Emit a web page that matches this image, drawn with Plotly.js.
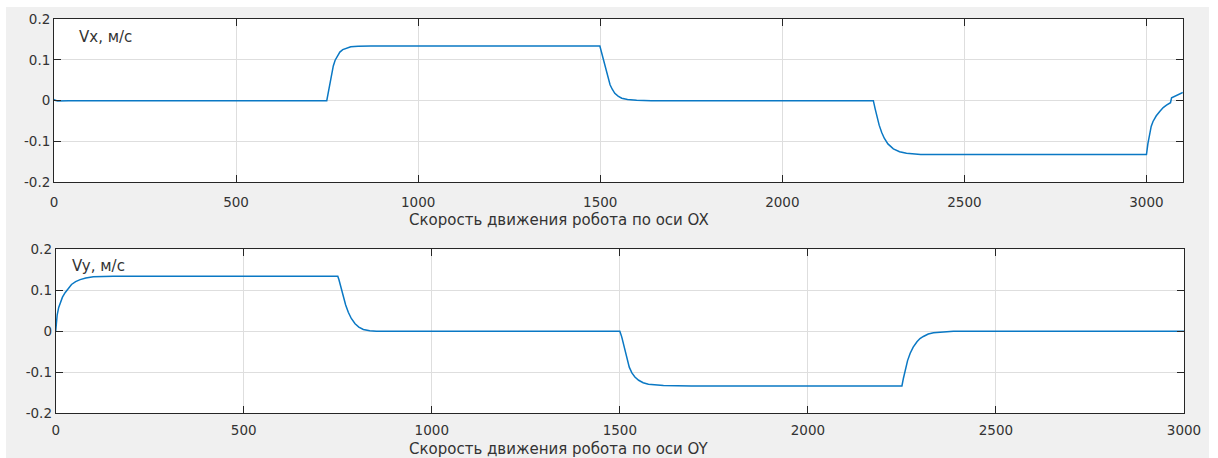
<!DOCTYPE html>
<html>
<head>
<meta charset="utf-8">
<script src="https://cdn.plot.ly/plotly-3.0.1.min.js"></script>
<style>
  html, body { margin: 0; padding: 0; background: #ffffff; }
  #chart { position: absolute; left: 6px; top: 7px; width: 1203px; height: 451px; }
</style>
</head>
<body>
<div id="chart"></div>
<script>
// ---- Data ----
// Vx (robot speed along OX), m/s
var vxTime = [0, 3, 10, 40,
              749, 753, 758, 762, 767, 772, 778, 785, 793, 803, 815, 835, 870,
              1499, 1504, 1508, 1513, 1518, 1522, 1527, 1533, 1540, 1549, 1559, 1575, 1600, 1640,
              2250, 2255, 2260, 2266, 2273, 2280, 2290, 2305, 2322, 2341, 2380,
              3000, 3004, 3009, 3013, 3018, 3027, 3037, 3046, 3055, 3066, 3069, 3085, 3100];
var vxValue = [0.003, 0.001, -0.001, 0,
               0, 0.02, 0.045, 0.066, 0.085, 0.099, 0.11, 0.119, 0.125, 0.129, 0.132, 0.1335, 0.134,
               0.134, 0.117, 0.1, 0.08, 0.063, 0.051, 0.039, 0.028, 0.018, 0.011, 0.006, 0.003, 0.001, 0,
               0, -0.02, -0.04, -0.06, -0.078, -0.092, -0.106, -0.118, -0.125, -0.129, -0.132,
               -0.132, -0.105, -0.077, -0.063, -0.051, -0.037, -0.026, -0.017, -0.011, -0.005, 0.007, 0.013, 0.02];

// Vy (robot speed along OY), m/s
var vyTime = [0, 2, 4, 8, 12, 18, 25, 33, 42, 53, 65, 80, 100, 153,
              750, 753, 756, 760, 765, 771, 778, 786, 796, 806, 818, 835, 853,
              1500, 1505, 1510, 1514, 1519, 1525, 1532, 1540, 1550, 1562, 1576, 1595, 1616, 1690,
              2250, 2254, 2259, 2265, 2272, 2280, 2290, 2298, 2307, 2320, 2334, 2355, 2387, 3000];
var vyValue = [0, 0.022, 0.04, 0.058, 0.07, 0.083, 0.094, 0.104, 0.114, 0.121, 0.126, 0.13, 0.133, 0.134,
               0.134, 0.126, 0.115, 0.1, 0.082, 0.064, 0.046, 0.031, 0.018, 0.01, 0.004, 0.001, 0,
               0, -0.014, -0.032, -0.05, -0.07, -0.088, -0.102, -0.112, -0.12, -0.126, -0.1295, -0.132, -0.133, -0.134,
               -0.134, -0.115, -0.094, -0.072, -0.054, -0.039, -0.026, -0.018, -0.013, -0.007, -0.004, -0.002, 0, 0];

var xTickVals = [0, 500, 1000, 1500, 2000, 2500, 3000];
var xTickText = ['0', '500', '1000', '1500', '2000', '2500', '3000'];
var yTickVals = [-0.2, -0.1, 0, 0.1, 0.2];
var yTickText = ['-0.2', '-0.1', '0', '0.1', '0.2'];

var labelVx = 'Vx, м/с';
var labelVy = 'Vy, м/с';
var titleX1 = 'Скорость движения робота по оси OX';
var titleX2 = 'Скорость движения робота по оси OY';

// ---- Styling ----
var lineColor = '#0a78c4';
var textColor = '#333333';
var axisColor = '#262626';
var gridColor = '#dedede';
var fontFamily = 'DejaVu Sans, Liberation Sans, Arial, sans-serif';

var traces = [
  { x: vxTime, y: vxValue, type: 'scatter', mode: 'lines',
    line: { color: lineColor, width: 1.5 },
    xaxis: 'x', yaxis: 'y', showlegend: false, hoverinfo: 'skip' },
  { x: vyTime, y: vyValue, type: 'scatter', mode: 'lines',
    line: { color: lineColor, width: 1.5 },
    xaxis: 'x2', yaxis: 'y2', showlegend: false, hoverinfo: 'skip' }
];

function xAxis(domain, range, anchor, standoff) {
  return {
    domain: domain, range: range, anchor: anchor,
    tickmode: 'array', tickvals: xTickVals, ticktext: xTickText,
    ticks: 'inside', ticklen: 7, tickwidth: 1, tickcolor: axisColor,
    ticklabelstandoff: standoff,
    showline: true, linecolor: axisColor, linewidth: 1, mirror: 'ticks',
    showgrid: true, gridcolor: gridColor, gridwidth: 1, zeroline: false,
    tickfont: { family: fontFamily, size: 13.5, color: textColor },
    fixedrange: true
  };
}
function yAxis(domain, anchor) {
  return {
    domain: domain, range: [-0.2, 0.2], anchor: anchor,
    tickmode: 'array', tickvals: yTickVals, ticktext: yTickText,
    ticks: 'inside', ticklen: 7, tickwidth: 1, tickcolor: axisColor,
    showline: true, linecolor: axisColor, linewidth: 1, mirror: 'ticks',
    showgrid: true, gridcolor: gridColor, gridwidth: 1, zeroline: false,
    tickfont: { family: fontFamily, size: 13.5, color: textColor },
    fixedrange: true
  };
}

var layout = {
  width: 1203, height: 451,
  margin: { l: 48, r: 25, t: 12, b: 45 },
  paper_bgcolor: '#f0f0f0',
  plot_bgcolor: '#ffffff',
  font: { family: fontFamily, size: 14, color: textColor },
  showlegend: false,
  xaxis: xAxis([0, 0.999], [0, 3100], 'y', 7),
  yaxis: yAxis([0.5855, 1], 'x'),
  xaxis2: xAxis([0.0015, 1], [0, 3000], 'y2', 5),
  yaxis2: yAxis([0, 0.4155], 'x2'),
  annotations: [
    { text: labelVx, xref: 'paper', yref: 'paper', x: 0.0204, y: 0.955,
      xanchor: 'left', yanchor: 'middle', showarrow: false,
      font: { family: fontFamily, size: 15, color: textColor } },
    { text: labelVy, xref: 'paper', yref: 'paper', x: 0.0142, y: 0.373,
      xanchor: 'left', yanchor: 'middle', showarrow: false,
      font: { family: fontFamily, size: 15, color: textColor } },
    { text: titleX1, xref: 'paper', yref: 'paper', x: 0.4466, y: 0.4899,
      xanchor: 'center', yanchor: 'middle', showarrow: false,
      font: { family: fontFamily, size: 15, color: textColor } },
    { text: titleX2, xref: 'paper', yref: 'paper', x: 0.4466, y: -0.0913,
      xanchor: 'center', yanchor: 'middle', showarrow: false,
      font: { family: fontFamily, size: 15, color: textColor } }
  ]
};

Plotly.newPlot('chart', traces, layout, { displayModeBar: false, staticPlot: true });
</script>
</body>
</html>
